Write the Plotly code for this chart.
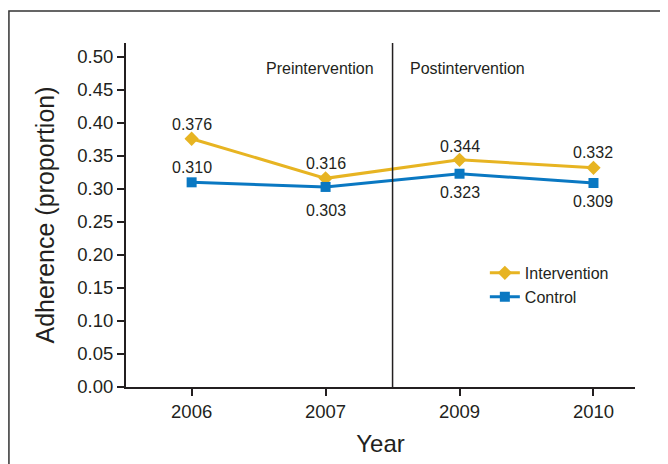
import plotly.graph_objects as go

years = ["2006", "2007", "2009", "2010"]
intervention = [0.376, 0.316, 0.344, 0.332]
control = [0.310, 0.303, 0.323, 0.309]
y_ticks = [0.00, 0.05, 0.10, 0.15, 0.20, 0.25, 0.30, 0.35, 0.40, 0.45, 0.50]

YEL = "#E7B422"
BLU = "#0A78C2"
INK = "#231f20"
FONT = "Liberation Sans, Arial, sans-serif"

xs = list(range(len(years)))

fig = go.Figure()
fig.add_trace(go.Scatter(
    x=xs, y=intervention, name="Intervention",
    mode="lines+markers",
    line=dict(color=YEL, width=3),
    marker=dict(symbol="diamond", size=11, color=YEL),
))
fig.add_trace(go.Scatter(
    x=xs, y=control, name="Control",
    mode="lines+markers",
    line=dict(color=BLU, width=3),
    marker=dict(symbol="square", size=10, color=BLU),
))

annotations = [
    dict(text="Preintervention", xref="x", yref="paper", x=1.5, y=0.927,
         xanchor="right", yanchor="middle", showarrow=False, xshift=-17,
         font=dict(size=16)),
    dict(text="Postintervention", xref="x", yref="paper", x=1.5, y=0.927,
         xanchor="left", yanchor="middle", showarrow=False, xshift=15,
         font=dict(size=16)),
]
int_shift = [14, 15, 13, 15]
ctl_shift = [15, -24, -19, -19]
for x, v, s in zip(xs, intervention, int_shift):
    annotations.append(dict(text=f"{v:.3f}", x=x, y=v, xref="x", yref="y",
                            showarrow=False, yshift=s, yanchor="middle",
                            font=dict(size=16)))
for x, v, s in zip(xs, control, ctl_shift):
    annotations.append(dict(text=f"{v:.3f}", x=x, y=v, xref="x", yref="y",
                            showarrow=False, yshift=s, yanchor="middle",
                            font=dict(size=16)))

fig.update_layout(
    width=660, height=456,
    margin=dict(l=118, r=33, t=35, b=77),
    paper_bgcolor="white", plot_bgcolor="white",
    font=dict(family=FONT, color=INK),
    showlegend=True,
    legend=dict(x=0.705, y=0.381, xanchor="left", yanchor="top",
                bgcolor="rgba(0,0,0,0)", font=dict(size=16),
                itemwidth=30, tracegroupgap=0),
    xaxis=dict(
        range=[-0.49, 3.31], tickmode="array",
        tickvals=xs, ticktext=years,
        showline=True, linecolor=INK, linewidth=2,
        ticks="outside", ticklen=7, tickcolor=INK, tickwidth=1.5,
        showgrid=False, zeroline=False,
        tickfont=dict(size=18.5),
        title=dict(text="Year", font=dict(size=24), standoff=14),
    ),
    yaxis=dict(
        range=[0, 0.521], tickmode="array", tickvals=y_ticks,
        ticktext=[f"{v:.2f}" for v in y_ticks],
        showline=True, linecolor=INK, linewidth=2,
        ticks="outside", ticklen=7, tickcolor=INK, tickwidth=1.5,
        showgrid=False, zeroline=False,
        tickfont=dict(size=18.5),
        title=dict(text="Adherence (proportion)", font=dict(size=25), standoff=16),
    ),
    shapes=[
        dict(type="line", xref="x", yref="paper", x0=1.5, x1=1.5, y0=0, y1=1,
             line=dict(color=INK, width=1.5)),
        dict(type="rect", xref="paper", yref="paper", x0=-0.23, x1=1.2,
             y0=-0.4, y1=1.093, line=dict(color="#333333", width=1.5),
             layer="below"),
    ],
    annotations=annotations,
)

fig.write_html("out.html")
